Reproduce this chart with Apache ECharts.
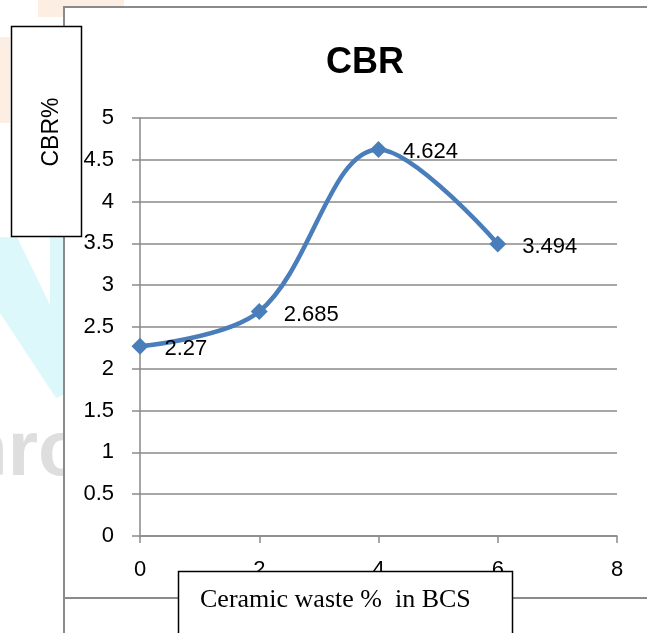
<!DOCTYPE html>
<html>
<head>
<meta charset="utf-8">
<script src="https://cdn.jsdelivr.net/npm/echarts@6/dist/echarts.min.js"></script>
<style>
html,body{margin:0;padding:0;background:#fff;}
#c{width:647px;height:633px;}
</style>
</head>
<body>
<div id="c"></div>
<script>
var xValues = [0, 2, 4, 6];
var cbrValues = [2.27, 2.685, 4.624, 3.494];
var chartTitle = 'CBR';
var yAxisTitle = 'CBR%';
var xAxisTitle = 'Ceramic waste %  in BCS';

var seriesData = xValues.map(function (x, i) { return [x, cbrValues[i]]; });
var GRID = '#8a8a8a';
var NUM_FONT = '"Liberation Sans",sans-serif';

var chart = echarts.init(document.getElementById('c'), null, {renderer: 'canvas'});
chart.setOption({
  animation: false,
  backgroundColor: '#ffffff',
  title: {
    text: chartTitle,
    left: 360,
    top: 40,
    textAlign: 'center',
    textStyle: {fontFamily: NUM_FONT, fontWeight: 'bold', fontSize: 36, color: '#000'}
  },
  grid: {left: 140, top: 118, width: 477, height: 418, containLabel: false},
  xAxis: {
    type: 'value', min: 0, max: 8, interval: 2,
    axisLine: {show: true, lineStyle: {color: GRID, width: 1.5}},
    axisTick: {show: true, length: 7, lineStyle: {color: GRID, width: 1.5}},
    splitLine: {show: false},
    axisLabel: {margin: 23, fontSize: 22, color: '#000', fontFamily: NUM_FONT}
  },
  yAxis: {
    type: 'value', min: 0, max: 5, interval: 0.5,
    axisLine: {show: true, lineStyle: {color: GRID, width: 1.5}},
    axisTick: {show: true, length: 8, lineStyle: {color: GRID, width: 1.5}},
    splitLine: {show: true, lineStyle: {color: GRID, width: 1.5}},
    axisLabel: {margin: 26, fontSize: 22, color: '#000', fontFamily: NUM_FONT}
  },
  series: [{
    type: 'line',
    data: seriesData,
    smooth: 0.35,
    symbol: 'diamond',
    symbolSize: 17,
    lineStyle: {color: '#4a7ebb', width: 4.5},
    itemStyle: {color: '#4a7ebb'},
    label: {show: true, position: 'right', distance: 16, offset: [0, 3],
            fontSize: 22, color: '#000', fontFamily: NUM_FONT}
  }],
  graphic: [
    {type: 'rect', z: -20, silent: true, shape: {x: 38, y: 0, width: 86, height: 17}, style: {fill: '#fdeee4'}},
    {type: 'rect', z: -20, silent: true, shape: {x: 0, y: 37, width: 10, height: 86}, style: {fill: '#fdeee4'}},
    {type: 'polygon', z: -20, silent: true, shape: {points: [[0,237],[17,237],[50,305],[50,237],[63,237],[63,395],[56,398],[0,313]]}, style: {fill: '#dcf8fb'}},
    {type: 'text', z: -20, silent: true, x: -40, y: 414, style: {text: 'hro', font: 'bold 78px "Liberation Sans",sans-serif', fill: '#dedede'}},
    {type: 'rect', z: -15, silent: true, shape: {x: 64, y: 7, width: 600, height: 591}, style: {fill: '#ffffff'}},
    {type: 'polyline', z: 5, silent: true, shape: {points: [[64,660],[64,7],[660,7]]}, style: {stroke: GRID, lineWidth: 2, fill: null}},
    {type: 'line', z: 5, silent: true, shape: {x1: 64, y1: 598, x2: 660, y2: 598}, style: {stroke: GRID, lineWidth: 2}},
    {type: 'rect', z: 20, silent: true, shape: {x: 11.5, y: 26.5, width: 70, height: 210}, style: {fill: '#fff', stroke: '#000', lineWidth: 1.5}},
    {type: 'text', z: 21, silent: true, x: 52, y: 132, rotation: Math.PI / 2,
      style: {text: yAxisTitle, font: '23px "Liberation Sans",sans-serif', fill: '#000', textAlign: 'center', textVerticalAlign: 'middle'}},
    {type: 'rect', z: 20, silent: true, shape: {x: 178.5, y: 571.5, width: 334, height: 80}, style: {fill: '#fff', stroke: '#000', lineWidth: 1.5}},
    {type: 'text', z: 21, silent: true, x: 200, y: 600,
      style: {text: xAxisTitle, font: '26px "Liberation Serif",serif', fill: '#000', textAlign: 'left', textVerticalAlign: 'middle'}}
  ]
});
</script>
</body>
</html>
